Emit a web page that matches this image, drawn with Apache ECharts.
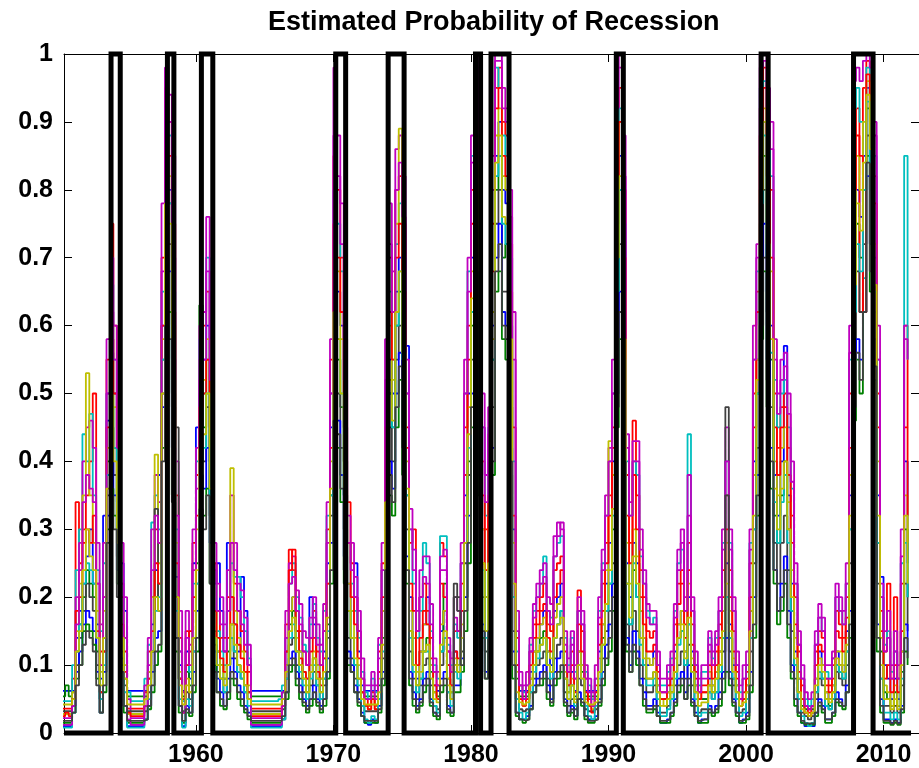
<!DOCTYPE html>
<html>
<head>
<meta charset="utf-8">
<script src="https://cdn.jsdelivr.net/npm/echarts@6/dist/echarts.min.js"></script>
<style>
html,body{margin:0;padding:0;background:#fff;}
#chart{width:919px;height:768px;}
</style>
</head>
<body>
<div id="chart"></div>
<script>
// ---------------- data ----------------
const titleText = 'Estimated Probability of Recession';
const xMin = 1950.41;
const xMax = 2012.58;
const firstQuarter = 1950.25;          // first observation: 1950 Q2, quarterly steps
const xTickYears = [1960, 1970, 1980, 1990, 2000, 2010];
const yTickStep = 0.1;
// recession indicator (0/1), start and end of each episode in decimal years
const recessions = [
  [1953.83, 1954.50], [1957.93, 1958.40], [1960.40, 1961.23], [1970.17, 1970.89],
  [1973.98, 1975.14], [1980.33, 1980.70], [1981.46, 1982.77], [1990.57, 1991.08],
  [2001.10, 2001.61], [2007.82, 2009.24]
];
const recessionLineEnd = 2012.0;
const lineColors = ['#0000ff', '#008000', '#ff0000', '#00bfbf', '#bf00bf', '#bfbf00', '#404040'];

// estimated probabilities, percent, one value per quarter (1950Q2 ... 2011Q4)
const blue1 = [
  6.2,6.2,6.2, 6.2,14,18,22, 26,30,22,16, 8,32,46,56, 50,34,25,18,
  6.2,6.2,6.2,6.2, 6.2,6.2,9,16, 24,38,60,85, 80,55,23,10, 6.2,12,8,25,
  45,50,55,60, 40,22,25,18, 12,28,20,16, 12,23,18,10, 6.2,6.2,6.2,6.2,
  6.2,6.2,6.2,6.2, 6.2,6.2,12,18, 20,15,12,9, 8,20,16,10, 8,12,25,45,
  70,65,60,40, 22,18,25,12, 7,6.2,6.2,6.2, 6.2,9,18,40, 55,50,65,70,
  60,57,20,14, 8,12,16,20, 10,7,6.2,15, 18,10,7,12, 10,18,35,50,
  70,85,55,30, 20,30,60,85, 90,80,78,60, 30,10,6.2,6.2, 6.2,9,12,14,
  16,18,12,10, 18,20,22,10, 7,9,6.2,12, 10,6.2,6.2,6.2, 6.2,12,16,22,
  28,40,75,85, 60,25,20,28, 25,18,14,10, 10,12,7,5, 5,6,8,12,
  16,18,12,20, 12,7,5,5, 5,8,7,9, 12,18,25,16, 10,7,5,5,
  7,18,40,55, 80,90,75,60, 38,32,40,57, 35,22,12,8, 5,4,4,4,
  8,12,10,6, 5,7,12,10, 9,15,35,70, 80,76,85,95, 88,70,35,23,
  10,8,5,8, 5,12,40,25
];
const green1 = [
  5.4,7,5.4, 6,12,16,20, 24,22,20,12, 6,14,40,50, 42,30,14,8,
  5.4,5.4,5.4,5.4, 5.4,5.4,8,12, 20,22,55,80, 78,50,20,8, 5.4,9,7,14,
  25,63,45,55, 35,15,12,10, 8,12,16,12, 10,9,7,6, 5.4,5.4,5.4,5.4,
  5.4,5.4,5.4,5.4, 5.4,6,10,16, 18,12,10,8, 6,9,11,8, 6,8,16,35,
  60,55,48,35, 18,14,10,8, 6,5.4,5.4,5.4, 5.4,7,14,35, 50,45,60,65,
  55,35,15,10, 7,8,12,14, 9,6,5.4,12, 22,8,6,10, 9,14,28,40,
  60,80,50,25, 15,25,55,80, 85,70,72,55, 20,8,5.4,5.4, 5.4,8,10,12,
  14,15,10,9, 14,16,18,8, 6,7,5.4,10, 9,5.4,5.4,5.4, 5.4,9,14,18,
  22,30,65,80, 55,22,16,24, 20,14,10,8, 8,9,6,5, 5,5,6,9,
  14,15,10,16, 10,6,5,5, 5,7,6,8, 10,14,20,14, 8,6,5,5,
  6,14,30,50, 75,85,70,55, 32,28,35,40, 30,18,10,6, 4,3.5,3.5,3.5,
  6,9,8,5, 4,6,10,9, 8,12,30,62, 75,70,80,92, 85,62,28,12,
  6,5,4,6, 4,9,30,20
];
const red1 = [
  3.6,3.6,3.6, 8,34,25,30, 35,40,50,22, 12,20,55,75, 60,45,20,12,
  3.6,3.6,3.6,3.6, 3.6,6,12,20, 30,28,70,95, 90,75,35,14, 5,15,12,28,
  38,55,60,65, 50,25,18,14, 14,20,28,22, 18,15,12,9, 3.6,3.6,3.6,3.6,
  3.6,3.6,3.6,3.6, 3.6,5,16,27, 24,18,15,12, 10,14,18,12, 10,15,30,55,
  85,80,70,50, 34,25,20,15, 8,5,4,6, 4,12,25,50, 70,62,80,82,
  75,45,28,30, 15,20,22,18, 14,9,7,28, 26,12,9,15, 15,22,45,60,
  80,95,75,40, 30,40,75,95, 98,90,88,72, 45,14,7,5, 6,12,16,18,
  20,22,16,15, 24,25,26,12, 9,12,8,21, 15,8,5,4, 7,16,22,28,
  35,45,90,95, 80,38,28,46, 35,24,20,15, 14,15,9,6, 6,8,10,16,
  22,24,16,28, 16,9,6,7, 7,12,10,12, 16,24,35,24, 15,9,5,6,
  9,25,50,65, 92,98,88,80, 50,42,48,50, 42,32,20,12, 7,4,3,4,
  12,15,14,8, 7,10,18,16, 14,20,50,88, 92,62,95,99, 96,82,50,18,
  12,22,8,20, 8,22,60,45
];
const cyan1 = [
  4.7,4.7,4.7, 10,24,30,44, 40,47,35,24, 15,25,50,66, 55,40,22,14,
  6,4.7,4.7,4.7, 4.7,8,13,31, 35,30,65,90, 88,65,30,12, 4.7,10,9,22,
  40,58,50,70, 48,24,15,12, 10,18,25,23, 23,20,15,11, 4.7,4.7,4.7,4.7,
  4.7,4.7,4.7,4.7, 5,7,14,22, 25,20,17,13, 12,16,19,14, 12,18,32,50,
  80,75,68,45, 28,22,18,14, 9,6,5,8, 6,13,24,48, 65,55,72,78,
  70,50,30,22, 14,18,28,25, 15,10,8,29, 29,13,10,16, 14,25,50,68,
  85,98,80,45, 32,45,80,98, 95,88,85,70, 40,12,7,6, 7,13,18,20,
  22,26,18,17, 26,28,29,14, 10,14,9,18, 16,9,7,5, 8,18,25,32,
  40,50,85,92, 75,40,32,40, 38,26,22,18, 16,17,10,7, 7,9,11,18,
  25,27,18,44, 18,10,7,9, 9,14,11,14, 18,28,40,28, 18,10,6,8,
  10,28,55,68, 95,96,90,82, 52,45,50,52, 45,36,22,13, 8,5,4,5,
  13,17,15,9, 8,11,20,18, 16,22,55,92, 95,90,67,98, 94,85,55,20,
  13,15,9,12, 8,25,85,55
];
const magenta1 = [
  2.2,2.2,2.2, 5,20,28,40, 45,46,42,28, 16,28,58,70, 60,48,28,20,
  5,2.2,2.2,2.2, 2.2,7,14,30, 38,34,78,98, 94,85,40,18, 6,18,13,30,
  42,60,62,76, 58,28,22,20, 16,24,35,28, 22,21,17,13, 2.2,2.2,2.2,2.2,
  2.2,2.2,2.2,2.2, 2.2,6,18,25, 26,21,19,15, 14,17,20,16, 13,19,34,58,
  98,88,78,58, 32,28,23,18, 11,7,7,9, 7,14,28,58, 78,68,86,88,
  82,55,33,27, 18,24,26,26, 19,11,9,26, 27,14,11,20, 18,28,55,70,
  88,100,85,50, 38,48,85,100, 100,95,92,80, 62,18,9,7, 9,14,19,22,
  24,25,20,19, 29,31,30,15, 11,15,10,20, 18,10,8,6, 10,20,27,35,
  42,55,98,100, 88,44,34,43, 43,30,24,19, 18,18,12,8, 8,10,12,19,
  27,30,20,38, 20,12,8,10, 10,15,12,15, 20,30,45,30, 20,12,7,10,
  12,30,60,72, 100,100,95,90, 58,50,55,56, 50,40,25,15, 10,6,5,6,
  15,19,17,10, 10,12,22,20, 18,25,60,100, 100,100,100,100, 100,90,60,22,
  15,18,10,15, 10,30,60,60
];
const yellow1 = [
  2.8,2.8,2.8, 6,15,22,35, 53,35,28,18, 9,18,42,60, 48,35,18,10,
  2.8,2.8,2.8,2.8, 2.8,4,9,20, 41,25,58,85, 82,60,28,9, 3,8,6,18,
  30,48,52,58, 42,18,12,10, 8,14,39,18, 14,12,9,7, 2.8,2.8,2.8,2.8,
  2.8,2.8,2.8,2.8, 2.8,4,10,18, 20,14,12,9, 7,10,12,10, 8,11,22,40,
  70,68,58,40, 22,18,14,10, 6,4,3.5,5, 3.5,8,18,42, 60,52,75,89,
  62,40,18,14, 9,12,16,16, 10,6,5,16, 18,8,6,11, 10,16,32,48,
  68,88,60,30, 20,30,62,88, 92,82,80,62, 28,9,5,4, 5,8,12,14,
  16,17,12,11, 17,19,20,9, 6,8,5,12, 10,5,4,3.5, 5,11,16,24,
  43,38,80,90, 65,28,22,30, 26,18,14,11, 10,11,7,5, 4,6,7,11,
  16,18,12,22, 11,7,5,6, 6,9,7,9, 12,18,28,18, 11,7,4,5,
  7,18,38,55, 85,92,80,68, 40,35,42,45, 34,24,14,8, 5,3,2.5,3,
  8,11,10,6, 5,7,12,12, 10,14,38,75, 85,80,90,96, 90,72,40,14,
  7,6,4,7, 4,12,35,28
];
const gray1 = [
  3.2,3.2,3.2, 5,10,14,18, 22,20,18,10, 5,12,35,45, 38,26,12,7,
  3.2,3.2,3.2,3.2, 3.2,3.2,6,12, 33,18,50,75, 72,48,45,8, 3.2,6,5,12,
  22,42,40,48, 32,13,9,8, 6,10,14,11, 9,8,6,5, 3.2,3.2,3.2,3.2,
  3.2,3.2,3.2,3.2, 3.2,3.5,8,13, 14,10,8,6, 5,7,9,7, 5,7,14,32,
  55,50,42,30, 14,11,8,6, 4,3.2,3.2,3.2, 3.2,5,11,30, 45,40,55,60,
  50,30,12,8, 5,7,10,11, 7,4,3.5,10, 14,6,5,22, 20,12,25,38,
  55,75,45,20, 12,20,48,75, 80,65,65,48, 15,5,3.5,3.2, 3.5,6,8,10,
  11,12,8,7, 11,13,14,6, 4,5,3.5,8, 7,3.5,3.2,3.2, 3.5,7,11,15,
  18,25,55,72, 48,16,12,18, 15,10,8,6, 6,7,4,3, 3,4,5,7,
  10,12,8,13, 7,4,3,3.5, 3.5,6,5,6, 8,12,48,12, 7,5,3,3.5,
  5,12,25,42, 70,80,62,48, 28,22,28,32, 24,15,8,5, 3,2.5,2,2.5,
  5,8,7,4, 3.5,5,9,8, 7,10,25,55, 68,62,72,88, 80,58,22,8,
  4,4,3,4, 3,7,22,15
];
const blue2 = [
  1,1,1, 4,9,12,16, 18,17,15,9, 3,9,32,40, 35,24,11,4,
  1,1,1,1, 1,2,4,9, 14,15,48,70, 68,42,14,4, 1,4,3,9,
  18,38,36,42, 28,12,8,6, 4,8,11,9, 7,6,4,3, 1,1,1,1,
  1,1,1,1, 1,2,6,11, 12,9,7,5, 4,5,7,5, 4,5,11,28,
  50,46,38,26, 12,10,7,5, 3,1.5,1.2,2, 1.5,4,9,26, 40,36,50,56,
  45,26,9,6, 4,5,8,9, 5,3,2.5,8, 9,4,3,7, 7,11,20,32,
  50,70,40,16, 9,16,42,70, 75,62,60,42, 12,3,2,2, 2.5,4,7,8,
  9,10,7,5, 9,11,12,5, 3,4,2.5,6, 5,2.5,2,2, 2.5,5,9,13,
  16,22,50,65, 42,14,10,15, 12,8,6,4, 4,5,3,1.5, 1.5,2,3,5,
  8,9,6,10, 5,3,1.5,2, 2,4,3,4, 6,9,14,9, 5,3,1.5,2,
  3,9,20,38, 65,75,55,42, 24,18,22,26, 18,10,5,3, 1.5,1,1,1,
  3,5,4,2, 2,3,6,5, 4,7,18,50, 58,55,62,82, 72,52,16,5,
  2,2,1.5,2, 1.5,4,16,12
];
const green2 = [
  1.5,1.5,1.5, 3,8,10,15, 16,15,13,8, 3,6,30,36, 32,22,10,3,
  1.5,1.5,1.5,1.5, 1.5,2,3.5,6, 10,12,42,62, 62,35,12,3, 1.5,3,2.5,6,
  12,32,32,36, 22,10,6,4, 3.5,5,8,7, 5,4,3,2, 1.5,1.5,1.5,1.5,
  1.5,1.5,1.5,1.5, 1.5,2,5,9, 10,7,5,4, 3,4,5,4, 3,4,8,22,
  45,42,34,22, 10,9,6,4, 2.5,1.5,1.5,1.5, 1.5,3,7,22, 35,32,45,52,
  38,22,7,4, 3,4,6,7, 4,2.5,2,6, 7,3,2.5,6, 6,9,15,25,
  45,65,35,14, 8,14,38,65, 68,58,55,38, 8,2.5,2,1.5, 2,3.5,6,7,
  7,8,5,4, 7,8,9,4, 2.5,3,2,5, 4,2,1.5,1.5, 2,4,7,10,
  12,18,45,58, 36,12,9,12, 10,7,4,3, 3,3.5,2.5,1.5, 1.5,1.5,2.5,4,
  6,7,5,7, 4,2.5,1.5,1.5, 1.5,3,2.5,3, 4,6,9,7, 4,2.5,1.5,1.5,
  2,6,14,32, 58,68,48,36, 22,16,18,22, 14,8,4,2.5, 1.5,1.2,1.2,1.2,
  2.5,4,3,1.5, 1.5,2.5,4.5,4, 3.5,6,14,46, 55,50,62,85, 65,52,12,3,
  1.5,1.5,1.2,1.5, 1.2,3,12,10
];
const red2 = [
  2.5,3,2.5, 5,18,20,28, 30,28,32,15, 6,12,45,58, 50,38,16,9,
  3,2.5,2.5,2.5, 2.5,4,8,15, 25,22,60,88, 85,62,25,8, 3,10,15,20,
  32,48,50,55, 45,18,14,11, 9,14,20,16, 13,11,9,6, 2.5,2.5,2.5,2.5,
  2.5,2.5,2.5,2.5, 2.5,4,12,24, 27,15,11,9, 8,12,14,9, 7,11,22,42,
  75,70,62,45, 28,20,16,11, 6,4,3.5,5, 3.5,9,20,45, 62,55,70,75,
  65,42,22,18, 10,14,18,16, 11,7,5,22, 20,10,7,12, 11,18,38,55,
  75,90,70,35, 24,35,68,92, 95,85,82,65, 32,10,5,4, 5,10,14,16,
  18,19,14,12, 20,22,24,10, 7,10,6,16, 12,6,4,3, 6,13,18,25,
  32,42,82,90, 70,32,25,38, 30,20,16,12, 12,13,8,5, 5,7,8,13,
  19,22,14,24, 13,8,5,6, 6,10,8,10, 14,20,30,20, 12,8,4,5,
  8,20,45,62, 88,95,82,70, 45,38,45,48, 38,28,16,9, 5,3,2.5,3,
  10,13,12,7, 6,8,15,14, 12,17,42,80, 88,85,62,97, 92,78,45,15,
  8,10,6,10, 6,15,45,32
];
const cyan2 = [
  0.8,0.8,0.8, 3,12,16,22, 25,24,22,14, 5,10,38,48, 42,30,14,6,
  0.8,0.8,0.8,0.8, 0.8,2,5,12, 18,20,55,80, 78,52,18,5, 0.8,5,4,12,
  22,40,42,50, 35,14,10,8, 6,10,14,12, 9,8,6,4, 0.8,0.8,0.8,0.8,
  0.8,0.8,0.8,0.8, 0.8,2,8,14, 16,12,9,7, 5,8,10,7, 5,8,15,35,
  62,58,50,35, 18,14,10,7, 4,2,1.5,2.5, 2,5,12,32, 50,45,60,68,
  55,35,14,9, 6,8,12,12, 8,4,3,12, 14,6,4,9, 8,14,28,42,
  62,82,52,24, 14,24,55,82, 85,75,72,55, 20,5,3,2, 3,6,9,11,
  13,14,10,8, 14,16,18,8, 5,7,4,10, 8,4,2.5,2, 4,8,13,18,
  22,32,65,80, 55,22,16,25, 20,13,10,7, 7,8,5,2.5, 2.5,3.5,5,8,
  13,15,10,16, 9,5,2.5,3, 3,6,5,6, 9,14,20,14, 8,5,2.5,3,
  5,14,30,50, 78,88,70,56, 34,28,34,38, 28,18,10,5, 2.5,1.5,1,1.5,
  6,9,8,4, 3.5,5,10,9, 8,12,30,62, 72,68,80,93, 84,65,28,8,
  3,3,2,3, 2,8,28,20
];
const magenta2 = [
  1.2,1.2,1.2, 4,16,24,34, 38,36,34,22, 10,20,50,62, 55,42,22,14,
  2,1.2,1.2,1.2, 1.2,4,10,24, 32,28,68,92, 90,70,32,12, 3,14,10,24,
  36,52,55,68, 52,24,18,16, 12,18,28,24, 18,16,13,10, 1.2,1.2,1.2,1.2,
  1.2,1.2,1.2,1.2, 1.2,4,14,22, 23,18,16,12, 10,14,17,13, 10,15,28,50,
  88,82,72,52, 28,24,20,15, 8,5,5,7, 5,11,24,52, 72,62,80,84,
  76,50,30,24, 15,20,23,22, 16,9,7,24, 24,12,9,17, 15,25,50,65,
  84,98,80,45, 34,44,80,99, 99,92,90,76, 55,15,7,5, 7,12,17,20,
  22,23,18,16, 26,29,31,13, 9,13,8,18, 16,8,6,4, 8,17,24,32,
  40,50,92,98, 82,42,32,40, 40,27,22,17, 16,16,10,6, 6,8,10,17,
  24,28,18,32, 18,10,6,8, 8,13,10,13, 18,27,40,27, 18,10,5,8,
  10,27,55,70, 98,99,92,86, 55,47,52,54, 47,37,22,13, 8,4,3.5,4,
  13,17,15,8, 8,11,20,18, 16,22,56,96, 98,96,99,100, 98,88,55,20,
  12,14,8,12, 8,26,58,55
];
const yellow2 = [
  4.2,4.2,4.2, 5,12,15,24, 30,26,24,14, 7,14,36,48, 40,28,14,8,
  4.2,4.2,4.2,4.2, 4.2,5,7,12, 20,18,50,78, 75,52,20,7, 4.2,7,6,14,
  24,42,44,50, 36,14,10,8, 7,10,16,13, 10,9,7,5, 4.2,4.2,4.2,4.2,
  4.2,4.2,4.2,4.2, 4.2,5,9,15, 17,12,10,8, 6,9,11,8, 6,9,17,36,
  62,58,50,36, 18,14,11,8, 5,4.2,4.2,4.2, 4.2,6,13,34, 52,46,62,68,
  56,36,15,10, 7,9,12,13, 8,5,4.5,13, 15,7,5,10, 9,14,28,44,
  64,84,55,25, 15,25,58,84, 88,76,75,58, 22,6,4.5,4.2, 4.5,7,10,12,
  13,14,10,9, 14,16,17,8, 5,7,4.5,10, 8,4.5,4.2,4.2, 4.5,9,13,19,
  24,33,70,82, 58,22,17,26, 22,14,11,8, 8,9,6,4, 4,5,6,9,
  14,16,11,17, 9,6,4,4.5, 4.5,7,6,8, 10,15,22,15, 9,6,4,4.5,
  6,15,32,52, 80,90,72,58, 36,30,36,40, 30,20,11,6, 3.5,3,2.5,3,
  7,10,9,5, 4.5,6,11,10, 9,13,32,66, 78,74,84,94, 86,66,32,10,
  5,5,3.5,5, 3.5,10,32,22
];
const gray2 = [
  1.8,1.8,1.8, 3,7,10,13, 15,14,12,7, 3,7,28,35, 30,20,9,4,
  1.8,1.8,1.8,1.8, 1.8,2,4,7, 12,13,40,60, 58,34,14,4, 1.8,3.5,3,7,
  14,33,30,35, 22,9,6,5, 4,6,9,8, 6,5,3.5,2.5, 1.8,1.8,1.8,1.8,
  1.8,1.8,1.8,1.8, 1.8,2.5,6,10, 11,8,6,4.5, 3.5,5,6,4.5, 3.5,5,9,24,
  46,44,36,24, 11,9,6,4.5, 2.5,1.8,1.8,1.8, 1.8,3.5,8,24, 38,34,48,54,
  42,24,8,5, 3.5,4.5,7,8, 4.5,3,2.5,7, 8,3.5,3,20, 18,10,18,28,
  48,68,38,15, 8,15,40,68, 72,60,58,40, 10,3,2,1.8, 2,3.5,6,7,
  8,9,6,4.5, 8,9,10,4.5, 3,3.5,2.5,5, 4.5,2.5,1.8,1.8, 2,4.5,8,11,
  14,20,48,62, 40,13,9,13, 11,7,5,3.5, 3.5,4,2.5,1.8, 1.8,2,3,4.5,
  7,8,5,8, 4.5,2.5,1.8,2, 2,3.5,3,3.5, 5,8,35,8, 4.5,3,1.8,2,
  2.5,7,16,35, 60,70,52,40, 24,18,20,24, 16,9,5,3, 1.8,1.4,1.4,1.4,
  3,4.5,3.5,2, 2,3,5,4.5, 4,6,16,48, 56,52,62,84, 68,54,14,4,
  1.8,1.8,1.4,1.8, 1.4,3.5,14,11
];

// ---------------- chart ----------------
const probSeries = [blue1, green1, red1, cyan1, magenta1, yellow1, gray1,
                    blue2, green2, red2, cyan2, magenta2, yellow2, gray2];
const fontFamily = '"Liberation Sans", Arial, Helvetica, sans-serif';

function toPoints(arr) {
  return arr.map((v, i) => [firstQuarter + i * 0.25, v / 100]);
}
const recessionData = [[xMin, 0]];
recessions.forEach(([s, e]) => { recessionData.push([s, 0], [s, 1], [e, 1], [e, 0]); });
recessionData.push([recessionLineEnd, 0]);

const series = probSeries.map((arr, k) => ({
  type: 'line',
  step: 'end',
  data: toPoints(arr),
  symbol: 'none',
  showSymbol: false,
  silent: true,
  clip: true,
  lineStyle: { color: lineColors[k % lineColors.length], width: 1.8 },
  z: 2
}));
series.push({
  type: 'line',
  data: recessionData,
  symbol: 'none',
  showSymbol: false,
  silent: true,
  clip: false,
  lineStyle: { color: '#000000', width: 5, join: 'miter', cap: 'butt' },
  z: 5
});

const axisLineStyle = { show: true, onZero: false, lineStyle: { color: '#000', width: 1 } };
const tickStyle = { show: true, inside: true, length: 8, lineStyle: { color: '#000', width: 1 } };
const labelStyle = { color: '#000', fontSize: 25, fontWeight: 'bold', fontFamily: fontFamily };

const option = {
  animation: false,
  backgroundColor: '#ffffff',
  title: {
    text: titleText,
    left: 268,
    top: 9,
    padding: 0,
    textStyle: { color: '#000', fontSize: 27, fontWeight: 'bold', fontFamily: fontFamily }
  },
  grid: { left: 64, top: 54, width: 856, height: 681, containLabel: false },
  xAxis: [
    {
      type: 'value', min: xMin, max: xMax, position: 'bottom',
      axisLine: axisLineStyle,
      axisTick: Object.assign({}, tickStyle, { customValues: xTickYears }),
      axisLabel: Object.assign({}, labelStyle, {
        customValues: xTickYears, margin: 10,
        formatter: (v) => String(Math.round(v))
      }),
      splitLine: { show: false }
    },
    {
      type: 'value', min: xMin, max: xMax, position: 'top',
      axisLine: axisLineStyle,
      axisTick: Object.assign({}, tickStyle, { customValues: xTickYears }),
      axisLabel: { show: false },
      splitLine: { show: false }
    }
  ],
  yAxis: [
    {
      type: 'value', min: 0, max: 1, interval: yTickStep, position: 'left',
      axisLine: axisLineStyle,
      axisTick: tickStyle,
      axisLabel: Object.assign({}, labelStyle, { margin: 11 }),
      splitLine: { show: false }
    },
    {
      type: 'value', min: 0, max: 1, interval: yTickStep, position: 'right',
      axisLine: axisLineStyle,
      axisTick: tickStyle,
      axisLabel: { show: false },
      splitLine: { show: false }
    }
  ],
  series: series
};

const chart = echarts.init(document.getElementById('chart'), null, { renderer: 'canvas' });
chart.setOption(option);
</script>
</body>
</html>
